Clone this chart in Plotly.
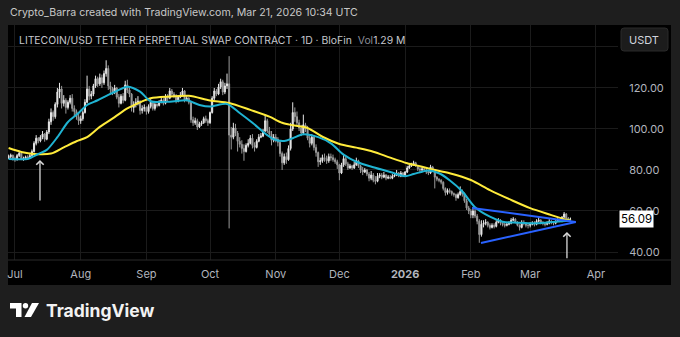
import pandas as pd
import plotly.graph_objects as go

# ---- daily LTC/USDT candles, 2025-06-28 .. 2026-03-20 (open = prior close) ----
first_open = 86.0
close_jun = [86.5, 87.2, 85.6]
high_jun = [87.5, 88.0, 87.5]
low_jun = [85.3, 85.8, 84.6]

close_jul = [85.0, 87.0, 88.2, 85.3, 85.6, 86.4, 85.8, 87.0, 89.0, 93.0, 95.5, 94.2, 96.0, 97.5, 95.0, 98.5,
             103.5, 108.0, 106.0, 112.0, 118.0, 119.5, 112.5, 114.0, 110.5, 113.0, 115.0, 110.0, 108.5, 106.0, 104.0]
high_jul = [86.5, 87.8, 89.0, 88.5, 86.5, 87.0, 87.2, 87.8, 90.0, 94.0, 97.0, 96.0, 97.0, 99.0, 98.0, 99.5,
            105.0, 110.0, 109.0, 113.0, 120.0, 122.5, 121.0, 116.5, 115.0, 114.0, 116.5, 117.0, 111.5, 109.5, 108.0]
low_jul = [84.0, 84.6, 86.3, 84.8, 84.5, 85.2, 85.0, 85.5, 86.5, 88.5, 92.0, 93.0, 93.5, 95.0, 93.8, 94.5,
           97.5, 102.0, 104.0, 105.0, 110.5, 115.0, 110.0, 111.0, 107.5, 109.5, 112.0, 108.5, 106.0, 104.5, 102.0]

close_aug = [105.0, 108.0, 113.0, 119.5, 116.0, 117.0, 121.0, 124.5, 122.0, 125.0, 122.5, 127.0, 129.5, 121.0, 119.5, 118.0,
             120.0, 115.5, 112.5, 116.0, 114.0, 121.5, 119.0, 117.0, 110.5, 112.0, 113.0, 113.5, 109.0, 110.0, 110.5]
high_aug = [106.5, 109.0, 114.5, 126.0, 121.0, 118.5, 122.0, 126.0, 125.5, 127.0, 126.5, 128.5, 133.5, 131.0, 123.0, 120.5,
            121.5, 120.5, 117.0, 117.0, 117.5, 123.5, 124.0, 120.0, 117.5, 113.5, 115.0, 116.0, 114.0, 111.5, 112.0]
low_aug = [102.5, 104.0, 107.5, 112.5, 114.0, 114.5, 116.0, 120.0, 120.5, 121.0, 120.0, 121.5, 125.5, 119.0, 117.0, 116.5,
           117.0, 114.5, 110.5, 112.0, 112.5, 113.5, 117.5, 115.5, 108.5, 108.0, 110.5, 111.5, 107.0, 107.5, 108.5]

close_sep = [108.5, 111.0, 113.0, 110.0, 112.0, 111.5, 113.5, 114.0, 112.5, 116.0, 115.0, 118.5, 117.0, 116.0, 113.5,
             115.5, 116.5, 118.5, 114.0, 115.0, 113.0, 104.5, 103.0, 104.0, 101.0, 102.5, 103.0, 105.0, 104.0, 103.0]
high_sep = [111.0, 112.0, 114.5, 113.5, 113.0, 112.5, 114.0, 116.0, 115.0, 117.0, 117.0, 120.0, 119.5, 118.0, 117.0,
            116.5, 118.0, 120.0, 119.0, 116.0, 115.5, 113.5, 106.0, 105.5, 105.0, 103.5, 104.0, 106.0, 106.5, 105.0]
low_sep = [107.0, 107.5, 110.0, 109.0, 109.0, 110.5, 111.0, 112.5, 111.5, 112.0, 113.5, 114.5, 116.0, 115.0, 112.5,
           113.0, 115.0, 116.0, 113.0, 113.5, 112.0, 103.0, 101.5, 102.0, 99.5, 100.5, 101.5, 102.5, 103.0, 101.5]

close_oct = [108.0, 115.0, 118.5, 117.0, 120.5, 123.0, 118.0, 121.0, 122.0, 97.0, 96.0, 100.5, 98.0, 94.0, 92.5, 90.5,
             89.0, 92.0, 93.0, 95.5, 92.0, 91.0, 94.0, 96.0, 96.5, 99.0, 104.0, 99.0, 97.5, 94.5, 96.0]
high_oct = [108.5, 116.0, 120.0, 119.5, 122.0, 124.5, 124.0, 122.5, 127.0, 135.5, 101.0, 103.0, 102.5, 99.0, 96.0, 94.5,
            92.5, 93.0, 95.0, 97.0, 97.5, 93.5, 95.0, 97.5, 98.0, 100.0, 107.0, 105.0, 101.0, 99.0, 97.5]
low_oct = [102.5, 107.5, 114.0, 116.0, 116.5, 119.5, 116.5, 117.0, 119.5, 51.5, 90.0, 95.0, 96.5, 89.0, 91.0, 88.0,
           84.5, 88.5, 91.0, 92.5, 90.5, 89.0, 90.5, 93.5, 95.5, 96.0, 98.5, 98.0, 96.5, 92.0, 93.5]

close_nov = [95.0, 93.5, 88.0, 83.5, 86.5, 85.0, 90.5, 100.0, 108.0, 106.0, 103.0, 100.5, 98.0, 102.0, 100.0,
             95.5, 93.0, 96.0, 91.0, 88.5, 84.0, 84.5, 86.0, 85.5, 84.5, 86.5, 86.0, 85.0, 84.0, 82.5]
high_nov = [97.5, 96.0, 94.0, 89.0, 88.0, 88.5, 92.0, 103.0, 113.0, 110.5, 108.5, 104.5, 102.0, 107.0, 103.0,
            101.5, 97.5, 97.5, 97.0, 92.5, 89.0, 86.0, 87.5, 88.0, 87.0, 88.0, 88.0, 87.5, 86.0, 85.0]
low_nov = [93.5, 91.5, 86.5, 80.0, 82.5, 83.0, 84.5, 89.5, 99.0, 103.5, 101.5, 99.0, 96.5, 97.0, 98.5,
           94.5, 91.0, 92.0, 89.5, 86.5, 81.5, 82.5, 83.5, 84.0, 83.0, 83.5, 84.5, 84.0, 83.0, 80.5]

close_dec = [78.5, 82.5, 85.5, 83.0, 81.0, 82.0, 81.0, 82.5, 84.5, 82.0, 80.0, 79.0, 80.0, 78.0, 76.0, 77.5,
             75.0, 74.5, 77.0, 77.5, 76.5, 77.5, 76.0, 76.5, 76.0, 77.0, 77.5, 78.5, 77.0, 78.5, 77.5]
high_dec = [83.0, 83.5, 87.5, 86.5, 84.0, 83.0, 82.5, 84.0, 86.0, 85.0, 82.5, 81.5, 81.0, 80.5, 79.0, 79.5,
            78.5, 77.0, 78.5, 78.5, 78.5, 79.0, 78.0, 77.5, 77.5, 78.0, 78.5, 80.0, 79.0, 79.5, 79.0]
low_dec = [75.0, 78.0, 81.5, 82.0, 80.0, 80.5, 80.0, 80.5, 82.0, 81.0, 78.5, 77.5, 78.5, 77.0, 74.5, 75.0,
           74.0, 73.0, 74.0, 76.0, 75.5, 76.0, 75.0, 75.5, 75.5, 75.5, 76.5, 77.0, 76.5, 76.5, 76.5]

close_jan = [79.0, 81.0, 82.0, 83.0, 83.5, 82.0, 80.5, 80.0, 80.5, 80.0, 79.0, 78.5, 81.5, 80.0, 76.5, 75.5,
             75.0, 74.0, 71.0, 69.0, 70.0, 69.5, 68.5, 68.0, 66.5, 68.0, 69.5, 68.5, 65.0, 61.5, 60.0]
high_jan = [79.5, 82.0, 82.5, 83.5, 84.5, 84.0, 82.5, 81.5, 81.5, 81.0, 80.5, 80.0, 82.5, 82.0, 80.5, 77.0,
            76.0, 75.5, 74.5, 71.5, 71.0, 71.0, 70.0, 69.0, 68.5, 69.0, 72.0, 70.5, 69.0, 66.0, 62.5]
low_jan = [77.0, 78.5, 80.5, 81.5, 82.0, 81.5, 79.5, 79.0, 79.5, 79.0, 78.0, 77.5, 78.0, 79.0, 71.0, 74.5,
           74.0, 73.0, 70.0, 67.5, 68.0, 68.5, 67.5, 67.0, 65.0, 66.0, 67.5, 67.0, 64.0, 60.5, 58.5]

close_feb = [58.0, 60.0, 57.5, 55.0, 48.5, 53.5, 54.0, 54.5, 53.0, 52.0, 53.0, 52.5, 54.5, 55.5,
             54.0, 53.5, 53.0, 53.5, 54.0, 55.5, 56.0, 54.5, 53.0, 52.0, 54.5, 54.0, 53.0, 53.0]
high_feb = [61.0, 62.0, 61.0, 58.5, 56.0, 55.5, 55.5, 56.0, 55.0, 54.0, 54.0, 54.0, 55.5, 56.5,
            56.0, 55.0, 54.5, 54.5, 55.0, 56.5, 57.0, 56.5, 55.0, 53.5, 55.5, 55.5, 54.5, 54.0]
low_feb = [56.5, 56.5, 56.5, 53.5, 44.5, 47.5, 52.0, 53.0, 52.0, 51.0, 51.5, 51.5, 52.0, 54.0,
           53.0, 52.5, 52.0, 52.5, 53.0, 53.5, 55.0, 54.0, 52.5, 50.5, 51.5, 53.0, 52.0, 51.5]

close_mar = [53.5, 54.0, 53.5, 55.0, 55.5, 54.5, 54.0, 53.5, 54.0, 55.0, 54.5, 54.0, 55.0, 55.5, 55.0,
             57.0, 58.5, 56.5, 56.0, 56.09]
high_mar = [54.5, 55.0, 55.0, 56.0, 57.0, 56.0, 55.0, 54.5, 55.0, 56.0, 55.5, 55.0, 55.5, 56.5, 56.0,
            57.5, 59.5, 59.0, 57.0, 56.8]
low_mar = [52.0, 53.0, 52.5, 53.0, 54.5, 53.5, 53.0, 52.5, 53.0, 53.5, 53.5, 53.0, 53.5, 54.5, 54.5,
           54.5, 56.5, 56.0, 55.5, 55.5]

# ---- moving averages (fast = cyan, slow = yellow) ----
ma_fast_dates = ["2025-06-28", "2025-07-07", "2025-07-12", "2025-07-16", "2025-07-21", "2025-07-26", "2025-07-31",
                 "2025-08-04", "2025-08-09", "2025-08-14", "2025-08-18", "2025-08-23", "2025-08-29", "2025-09-03",
                 "2025-09-12", "2025-09-20", "2025-09-26", "2025-10-01", "2025-10-09", "2025-10-15", "2025-10-21",
                 "2025-10-28", "2025-10-31", "2025-11-05", "2025-11-09", "2025-11-14", "2025-11-21", "2025-11-27",
                 "2025-12-03", "2025-12-09", "2025-12-17", "2025-12-25", "2026-01-01", "2026-01-05", "2026-01-12",
                 "2026-01-17", "2026-01-22", "2026-01-28", "2026-02-03", "2026-02-10", "2026-02-16", "2026-02-23",
                 "2026-03-04", "2026-03-13", "2026-03-20"]
ma_fast = [85.4, 85.4, 87.8, 89.8, 96.0, 103.4, 107.8,
           111.7, 114.0, 116.6, 118.5, 120.6, 118.2, 113.5,
           113.3, 114.0, 111.7, 110.9, 112.2, 107.8, 103.0,
           97.0, 95.0, 94.1, 95.5, 97.4, 96.0, 93.0,
           87.5, 84.0, 81.3, 79.0, 77.0, 78.0, 79.8,
           78.4, 75.0, 69.5, 61.8, 57.2, 54.8, 54.3,
           54.0, 54.8, 55.3]

ma_slow_dates = ["2025-06-28", "2025-07-04", "2025-07-10", "2025-07-18", "2025-07-24", "2025-07-30", "2025-08-04",
                 "2025-08-10", "2025-08-17", "2025-08-23", "2025-08-29", "2025-09-03", "2025-09-12", "2025-09-21",
                 "2025-10-01", "2025-10-10", "2025-10-20", "2025-10-29", "2025-11-04", "2025-11-09", "2025-11-16",
                 "2025-11-23", "2025-12-01", "2025-12-09", "2025-12-17", "2025-12-25", "2026-01-02", "2026-01-09",
                 "2026-01-14", "2026-01-22", "2026-02-01", "2026-02-10", "2026-02-20", "2026-03-01", "2026-03-11",
                 "2026-03-17", "2026-03-20"]
ma_slow = [90.7, 88.8, 87.8, 88.0, 91.0, 94.0, 96.0,
           101.0, 105.8, 110.0, 113.0, 115.0, 115.8, 116.2,
           113.9, 112.7, 109.3, 106.0, 103.0, 101.8, 100.5,
           96.2, 92.7, 90.9, 88.9, 86.0, 83.3, 81.6,
           80.2, 78.4, 75.1, 70.2, 65.4, 61.4, 58.0,
           56.0, 55.5]

# ---- symmetrical triangle drawn on the chart ----
tri_upper_dates = ["2026-02-01 14:00", "2026-03-22 12:00"]
tri_upper_prices = [61.5, 54.6]
tri_lower_dates = ["2026-02-05 19:00", "2026-03-22 12:00"]
tri_lower_prices = [44.4, 54.6]

# ---- arrow callouts: (date, tip price, tail price) ----
arrow_marks = [("2025-07-12 19:00", 84.9, 64.4), ("2026-03-18 08:00", 49.8, 36.2)]

month_ticks = ["2025-07-01", "2025-08-01", "2025-09-01", "2025-10-01", "2025-11-01", "2025-12-01",
               "2026-01-01", "2026-02-01", "2026-03-01", "2026-04-01"]
month_labels = ["Jul", "Aug", "Sep", "Oct", "Nov", "Dec", "<b>2026</b>", "Feb", "Mar", "Apr"]
price_ticks = [40, 60, 80, 100, 120, 140]
price_labels = ["40.00", "60.00", "80.00", "100.00", "120.00", ""]   # top level sits under the currency button

closes = close_jun + close_jul + close_aug + close_sep + close_oct + close_nov + close_dec + close_jan + close_feb + close_mar
highs = high_jun + high_jul + high_aug + high_sep + high_oct + high_nov + high_dec + high_jan + high_feb + high_mar
lows = low_jun + low_jul + low_aug + low_sep + low_oct + low_nov + low_dec + low_jan + low_feb + low_mar
opens = [first_open] + closes[:-1]
dates = pd.date_range("2025-06-28", periods=len(closes), freq="D")

# ---- page geometry (pixels) ----
FW, FH = 680, 337
L, T, R, B = 8, 25, 62, 77
PW, PH = FW - L - R, FH - T - B


def px(x):
    return (x - L) / PW


def py(y):
    return (FH - B - y) / PH


BG = "#1e1e1e"
TXT = "#b2b5be"
FONT = "Inter, Roboto, sans-serif"

fig = go.Figure()

fig.add_trace(go.Candlestick(
    x=dates, open=opens, high=highs, low=lows, close=closes,
    increasing=dict(line=dict(color="#e6e6e6", width=1), fillcolor="#e6e6e6"),
    decreasing=dict(line=dict(color="#9a9a9a", width=1), fillcolor="#9a9a9a"),
    whiskerwidth=0, showlegend=False, hoverinfo="skip",
))

fig.add_trace(go.Scatter(x=pd.to_datetime(ma_slow_dates), y=ma_slow, mode="lines",
                         line=dict(color="#ffeb3b", width=2, shape="spline", smoothing=0.8),
                         showlegend=False, hoverinfo="skip"))
fig.add_trace(go.Scatter(x=pd.to_datetime(ma_fast_dates), y=ma_fast, mode="lines",
                         line=dict(color="#1fb3d2", width=2, shape="spline", smoothing=0.8),
                         showlegend=False, hoverinfo="skip"))

for d, p in ((tri_upper_dates, tri_upper_prices), (tri_lower_dates, tri_lower_prices)):
    fig.add_trace(go.Scatter(x=pd.to_datetime(d), y=p, mode="lines",
                             line=dict(color="#2962ff", width=2),
                             showlegend=False, hoverinfo="skip"))

shapes = [
    # black chart panel
    dict(type="rect", xref="paper", yref="paper", x0=px(8), x1=px(671), y0=py(285), y1=py(25),
         fillcolor="#000000", line=dict(width=0), layer="below"),
    # time scale separator
    dict(type="line", xref="paper", yref="paper", x0=px(8), x1=px(671), y0=0, y1=0,
         line=dict(color="#2a2a2a", width=1), layer="above"),
    # currency button
    dict(type="path", xref="paper", yref="paper", layer="above",
         path=(f"M{px(624)},{py(28)} L{px(665)},{py(28)} Q{px(668)},{py(28)} {px(668)},{py(31)} "
               f"L{px(668)},{py(48)} Q{px(668)},{py(51)} {px(665)},{py(51)} L{px(624)},{py(51)} "
               f"Q{px(621)},{py(51)} {px(621)},{py(48)} L{px(621)},{py(31)} Q{px(621)},{py(28)} {px(624)},{py(28)} Z"),
         fillcolor="#1c1c1c", line=dict(color="#2a2a2a", width=1)),
    # TradingView mark
    dict(type="path", xref="paper", yref="paper", layer="above",
         path=(f"M{px(10)},{py(303)} L{px(21.5)},{py(303)} L{px(21.5)},{py(317)} L{px(16)},{py(317)} "
               f"L{px(16)},{py(308.5)} L{px(10)},{py(308.5)} Z"),
         fillcolor="#ffffff", line=dict(width=0)),
    dict(type="circle", xref="paper", yref="paper", layer="above",
         x0=px(22.8), x1=px(28.2), y0=py(308.4), y1=py(303),
         fillcolor="#ffffff", line=dict(width=0)),
    dict(type="path", xref="paper", yref="paper", layer="above",
         path=f"M{px(32)},{py(303)} L{px(39)},{py(303)} L{px(31)},{py(317)} L{px(24.5)},{py(317)} Z",
         fillcolor="#ffffff", line=dict(width=0)),
]

annotations = [
    dict(text="Crypto_Barra created with TradingView.com, Mar 21, 2026 10:34 UTC",
         xref="paper", yref="paper", x=px(8), y=py(13), xanchor="left", yanchor="middle",
         showarrow=False, font=dict(family=FONT, size=10.6, color="#c8c8c8")),
    dict(text=("LITECOIN/USD TETHER PERPETUAL SWAP CONTRACT · 1D · BloFin  "
               "<span style='color:#8a8d96'>Vol</span>1.29 M"),
         xref="paper", yref="paper", x=px(17), y=py(40), xanchor="left", yanchor="middle",
         showarrow=False, font=dict(family=FONT, size=10.4, color="#c4c6cc")),
    dict(text="USDT", xref="paper", yref="paper", x=px(644.5), y=py(39.5), xanchor="center", yanchor="middle",
         showarrow=False, font=dict(family=FONT, size=11, color="#d1d4dc")),
    dict(text=f"{closes[-1]:.2f}", xref="paper", yref="y", x=px(619), y=closes[-1],
         xanchor="left", yanchor="middle", showarrow=False, bgcolor="#ffffff", borderpad=1,
         font=dict(family=FONT, size=11.5, color="#000000")),
    dict(text="<b>TradingView</b>", xref="paper", yref="paper", x=px(44), y=py(310.5),
         xanchor="left", yanchor="middle", showarrow=False,
         font=dict(family=FONT, size=17.5, color="#f2f2f2")),
]
for d, tip, tail in arrow_marks:
    annotations.append(dict(x=d, y=tip, ax=d, ay=tail, xref="x", yref="y", axref="x", ayref="y",
                            text="", showarrow=True, arrowhead=4, arrowsize=1.1, arrowwidth=1.3,
                            arrowcolor="#d9d9d9"))

fig.update_layout(
    width=FW, height=FH,
    margin=dict(l=L, r=R, t=T, b=B, pad=0),
    paper_bgcolor=BG, plot_bgcolor="#000000",
    font=dict(family=FONT, color=TXT, size=11),
    shapes=shapes, annotations=annotations,
    xaxis=dict(range=["2025-06-27 17:00", "2026-04-11 10:00"], type="date",
               tickvals=month_ticks, ticktext=month_labels,
               showgrid=True, gridcolor="#1b1b1b", gridwidth=1, zeroline=False,
               ticks="outside", ticklen=4, tickcolor="rgba(0,0,0,0)",
               tickfont=dict(family=FONT, size=11, color=TXT),
               rangeslider=dict(visible=False), showline=False, fixedrange=True),
    yaxis=dict(range=[36.1, 150.7], side="right", tickvals=price_ticks, ticktext=price_labels,
               showgrid=True, gridcolor="#1b1b1b", gridwidth=1, zeroline=False,
               ticks="outside", ticklen=8, tickcolor="rgba(0,0,0,0)",
               tickfont=dict(family=FONT, size=11, color=TXT), showline=False, fixedrange=True),
    showlegend=False,
)

fig.write_html("out.html")
